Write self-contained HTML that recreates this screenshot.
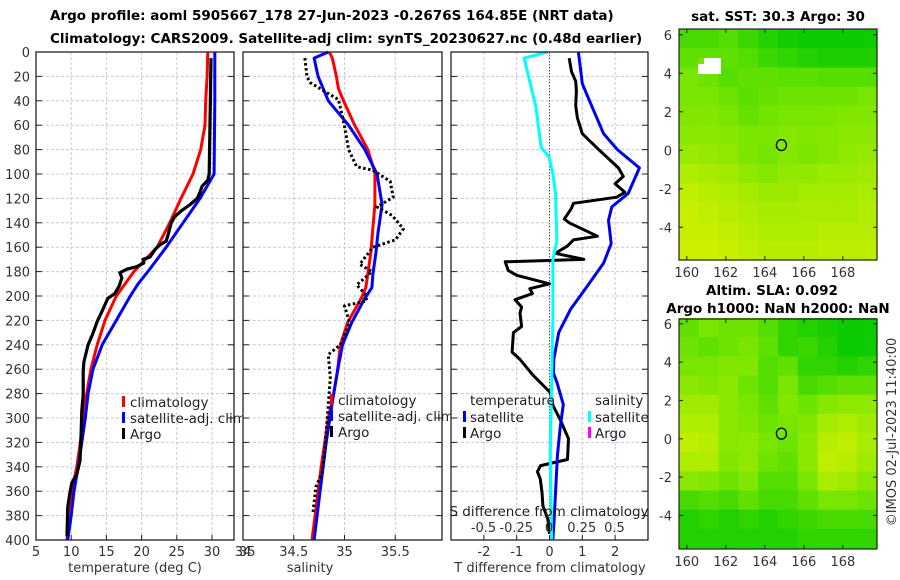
<!DOCTYPE html>
<html><head><meta charset="utf-8"><style>
body{margin:0;background:#fff;}
svg{display:block;font-family:"DejaVu Sans","Liberation Sans",sans-serif;}
.tk{font-size:13px;fill:#333;}
.ttl{font-size:13.5px;font-weight:bold;fill:#000;}
.lg{font-size:13.5px;fill:#222;}
</style></head><body>
<svg id="s" width="900" height="580" viewBox="0 0 900 580" xmlns="http://www.w3.org/2000/svg">
<text class="ttl" x="50" y="20">Argo profile: aoml 5905667_178 27-Jun-2023 -0.2676S 164.85E (NRT data)</text>
<text class="ttl" x="50" y="43">Climatology: CARS2009. Satellite-adj clim: synTS_20230627.nc (0.48d earlier)</text>
<text class="ttl" x="778" y="21" text-anchor="middle">sat. SST: 30.3 Argo: 30</text>
<text class="ttl" x="772" y="295" text-anchor="middle">Altim. SLA: 0.092</text>
<text class="ttl" x="778" y="313" text-anchor="middle">Argo h1000: NaN h2000: NaN</text>
<text class="tk" x="0" y="0" transform="translate(896,432) rotate(-90)" text-anchor="middle">©IMOS 02-Jul-2023 11:40:00</text>
<g id="g"></g>
</svg>
<script>
// ---------- data ----------
const depthTicks=[0,20,40,60,80,100,120,140,160,180,200,220,240,260,280,300,320,340,360,380,400];
const tempTicks=[5,10,15,20,25,30,35];
const salTicks=[34,34.5,35,35.5];
const tdiffTicks=[-2,-1,0,1,2];
const sdiffTickLabels=["-0.5","-0.25","0","0.25","0.5"];
const sdiffTickVals=[-0.5,-0.25,0,0.25,0.5];
const lonTicks=[160,162,164,166,168];
const latTicks=[6,4,2,0,-2,-4];

const climTDepth=[0,20,40,60,80,100,120,140,160,180,200,220,240,260,280,300,320,340,360,380,400];
const climT=[29.4,29.3,29.1,29.0,28.4,27.3,25.6,24.0,22.2,18.9,16.4,14.8,13.7,12.8,12.2,11.7,11.3,10.8,10.1,9.7,9.4];
const satTDepth=[0,40,100,120,140,160,170,180,190,200,220,240,260,280,300,320,340,360,380,400];
const satT=[30.4,30.4,30.3,28.3,25.9,23.5,22.2,20.9,19.5,18.4,16.4,14.4,13.1,12.4,12.0,11.5,11.0,10.4,10.0,9.5];
const argoTDepth=[5,100,105,110,115,120,125,130,135,140,150,155,158,162,168,170,173,176,178,181,185,192,198,202,211,221,232,240,254,262,281,294,313,335,346,353,362,373,397];
const argoT=[29.86,29.6,29.4,28.6,28.3,27.9,26.9,25.7,24.7,24.2,23.75,23.5,22.6,21.9,21.2,20.2,20.3,19.3,17.9,16.9,17.2,16.8,16.2,15.2,14.5,13.7,13.0,12.4,11.8,11.7,11.7,11.5,11.4,11.25,10.8,10.1,9.8,9.5,9.4];

const climSDepth=[0,5,20,30,40,60,80,99,125,144,164,182,193,201,222,240,262,282,300,340,400];
const climS=[34.85,34.88,34.92,34.94,34.99,35.10,35.23,35.30,35.30,35.28,35.26,35.23,35.21,35.17,35.03,34.96,34.93,34.89,34.84,34.77,34.68];
const satSDepth=[0,5,20,40,60,80,100,125,148,164,182,193,202,222,240,262,282,320,360,400];
const satS=[34.84,34.70,34.74,34.84,35.04,35.20,35.32,35.37,35.33,35.31,35.28,35.27,35.20,35.07,34.98,34.93,34.89,34.82,34.76,34.70];
const argoSDepth=[5,20,25,30,39,53,61,80,94,97,106,119,127,134,145,154,160,174,180,191,198,204,208,222,240,248,267,323,345,356,377];
const argoS=[34.61,34.63,34.66,34.76,34.94,34.98,35.00,35.04,35.12,35.28,35.45,35.48,35.32,35.47,35.58,35.50,35.28,35.15,35.27,35.12,35.20,35.22,35.00,35.05,34.96,34.84,34.86,34.81,34.78,34.72,34.69];

const sdiffDepth=[0,5,45,78,86,100,116,155,170,218,272,330,400];
const sdiffSat=[-0.01,-0.19,-0.10,-0.06,0.0,0.03,0.05,0.06,0.03,0.03,0.02,0.01,0.02];
const tdiffSatDepth=[0,26,45,67,80,95,116,127,138,157,173,192,211,230,252,263,271,289,307,331,384,400];
const tdiffSat=[0.88,1.0,1.3,1.65,2.07,2.74,2.4,1.9,1.8,1.88,1.65,1.15,0.64,0.28,0.13,0.12,0.23,0.42,0.33,0.24,0.14,0.1];
const tdiffArgoDepth=[5,16,24,32,44,54,67,80,95,102,108,115,119,124,128,133,137,140,151,154,159,163,165,170,172,179,183,190,194,198,203,209,214,225,230,246,252,265,279,290,301,317,334,339,344,350,361,372,383,395];
const tdiffArgo=[0.6,0.67,0.8,0.82,0.8,0.85,1.0,1.5,2.1,2.25,2.0,2.3,2.05,0.73,0.67,0.55,0.45,0.6,1.46,0.73,0.55,0.3,0.18,1.05,-1.35,-1.26,-1.0,0.0,-0.6,-0.52,-1.05,-0.85,-0.9,-0.85,-1.1,-1.14,-0.9,-0.5,0.02,0.11,0.32,0.58,0.55,-0.27,-0.37,-0.28,-0.23,-0.2,-0.05,0.0];

// map grids: rows lat 6..-5 (1 deg), cols lon 160..169 ; 0=dark green, 1=yellow
const sstGrid=[
[0.3,0.3,0.35,0.25,0.15,0.08,0.05,0.05,0.05,0.05],
[0.4,0.4,0.4,0.35,0.25,0.2,0.15,0.12,0.12,0.12],
[0.5,0.45,0.35,0.4,0.4,0.38,0.38,0.36,0.36,0.36],
[0.5,0.5,0.45,0.38,0.42,0.45,0.45,0.45,0.45,0.5],
[0.55,0.55,0.5,0.42,0.47,0.5,0.5,0.52,0.55,0.55],
[0.6,0.6,0.58,0.52,0.52,0.57,0.55,0.57,0.6,0.6],
[0.68,0.66,0.62,0.52,0.48,0.57,0.52,0.57,0.62,0.66],
[0.8,0.76,0.72,0.62,0.56,0.64,0.64,0.68,0.68,0.72],
[0.9,0.86,0.8,0.76,0.7,0.7,0.74,0.74,0.74,0.78],
[0.94,0.9,0.86,0.8,0.76,0.76,0.78,0.78,0.78,0.82],
[0.95,0.95,0.9,0.86,0.8,0.8,0.8,0.84,0.84,0.84],
[0.97,0.97,0.95,0.9,0.86,0.86,0.86,0.88,0.88,0.88]];
const slaGrid=[
[0.4,0.5,0.45,0.45,0.35,0.2,0.15,0.1,0.05,0.05],
[0.45,0.4,0.45,0.5,0.4,0.2,0.25,0.15,0.05,0.05],
[0.5,0.5,0.55,0.55,0.35,0.4,0.2,0.2,0.15,0.2],
[0.6,0.55,0.6,0.45,0.35,0.5,0.3,0.35,0.4,0.4],
[0.72,0.72,0.6,0.5,0.4,0.55,0.45,0.58,0.62,0.62],
[0.8,0.8,0.6,0.55,0.45,0.5,0.55,0.75,0.8,0.72],
[0.9,0.85,0.6,0.62,0.5,0.45,0.6,0.85,0.9,0.78],
[0.8,0.8,0.55,0.62,0.45,0.4,0.6,0.9,0.85,0.72],
[0.6,0.55,0.45,0.55,0.35,0.35,0.5,0.78,0.72,0.6],
[0.3,0.35,0.3,0.4,0.3,0.3,0.4,0.5,0.5,0.45],
[0.15,0.2,0.15,0.2,0.15,0.2,0.25,0.3,0.3,0.3],
[0.15,0.15,0.15,0.15,0.15,0.15,0.2,0.2,0.2,0.2]];
const argoLon=164.85, argoLat=0.27;

// ---------- drawing ----------
const NS="http://www.w3.org/2000/svg";
const G=document.getElementById('g');
function el(tag,attrs,parent){const e=document.createElementNS(NS,tag);for(const k in attrs)e.setAttribute(k,attrs[k]);(parent||G).appendChild(e);return e;}
const Y0=52,Y1=540;
const yD=d=>Y0+d*1.22;
const xT=t=>36+(t-5)*7.04;
const xS=s=>243+(s-34)*101.5;
const xTd=t=>549.5+t*32.8;
const xSd=s=>549+s*131;

function panel(name,x0,x1,vgrid){
  const r=el('rect',{x:x0,y:Y0,width:x1-x0,height:Y1-Y0,fill:'#fff'});
  
  
  for(const gx of vgrid){const l=el('line',{x1:gx,x2:gx,y1:Y0,y2:Y1,stroke:'#c4c8e6','stroke-width':1,'stroke-dasharray':'3 2'});
    
    }
  for(const d of depthTicks){const y=yD(d);
    if(d>0&&d<400){const l=el('line',{x1:x0,x2:x1,y1:y,y2:y,stroke:'#c4c8e6','stroke-width':1,'stroke-dasharray':'3 2'});
      
      }
    el('line',{x1:x0,x2:x0+6,y1:y,y2:y,stroke:'#222'});el('line',{x1:x1-6,x2:x1,y1:y,y2:y,stroke:'#222'});}
}
function frame(name,x0,x1){const f=el('rect',{x:x0,y:Y0,width:x1-x0,height:Y1-Y0,fill:'none',stroke:'#222','stroke-width':1.3});
  
  }
function line(xs,ds,fx,color,w,name,dash){
  const pts=xs.map((v,i)=>fx(v).toFixed(1)+','+yD(ds[i]).toFixed(1)).join(' ');
  const p=el('polyline',{points:pts,fill:'none',stroke:color,'stroke-width':w,'stroke-linejoin':'round'});
  if(dash){p.setAttribute('stroke-dasharray',dash);}
  
  
  return p;}
function txt(s,x,y,cls,anchor,name){const t=el('text',{x:x,y:y,class:cls,'text-anchor':anchor||'start'});t.textContent=s;
  
  return t;}
function legMark(x,y,color,name){const r=el('rect',{x:x,y:y-11,width:3,height:11,fill:color});
  
  }

// Panel 1 temperature
panel('temp-panel',36,234,tempTicks.filter(t=>t>5&&t<34).map(xT));
line(climT,climTDepth,xT,'#ff0000',3,'temp-climatology-line');
line(satT,satTDepth,xT,'#0000ff',3,'temp-satellite-line');
line(argoT,argoTDepth,xT,'#000',3.2,'temp-argo-line');
frame('temp-panel',36,234);
for(const d of depthTicks)txt(String(d),30,yD(d)+5,'tk','end','depth-tick-label');
for(const t of tempTicks){txt(String(t),xT(t),556,'tk','middle','temp-tick-label');el('line',{x1:xT(t),x2:xT(t),y1:Y1,y2:Y1-5,stroke:'#222'});}
txt('temperature (deg C)',135,572,'tk','middle','temp-axis-title');
legMark(122,407,'#ff0000','temp-legend-clim-marker');txt('climatology',130,407,'lg','start','temp-legend-clim');
legMark(122,423,'#0000ff','temp-legend-sat-marker');txt('satellite-adj. clim',130,423,'lg','start','temp-legend-sat');
legMark(122,439,'#000','temp-legend-argo-marker');txt('Argo',130,439,'lg','start','temp-legend-argo');

// Panel 2 salinity
panel('sal-panel',243,442,[34.5,35,35.5].map(xS));
line(climS,climSDepth,xS,'#ff0000',3,'sal-climatology-line');
line(satS,satSDepth,xS,'#0000ff',3,'sal-satellite-line');
line(argoS,argoSDepth,xS,'#000',3,'sal-argo-line','2.5 2.5');
frame('sal-panel',243,442);
for(const s of salTicks){txt(String(s),xS(s),556,'tk','middle','sal-tick-label');el('line',{x1:xS(s),x2:xS(s),y1:Y1,y2:Y1-5,stroke:'#222'});}
txt('salinity',310,572,'tk','middle','sal-axis-title');
legMark(330,405,'#ff0000','sal-legend-clim-marker');txt('climatology',338,405,'lg','start','sal-legend-clim');
legMark(330,421,'#0000ff','sal-legend-sat-marker');txt('satellite-adj. clim',338,421,'lg','start','sal-legend-sat');
legMark(330,437,'#000','sal-legend-argo-marker');txt('Argo',338,437,'lg','start','sal-legend-argo');

// Panel 3 differences
panel('diff-panel',451,648,[-2,-1,1,2].map(xTd));
const z=el('line',{x1:xTd(0),x2:xTd(0),y1:Y0,y2:Y1,stroke:'#555','stroke-width':1,'stroke-dasharray':'1.5 1.5'});


line(tdiffArgo,tdiffArgoDepth,xTd,'#000',3,'tdiff-argo-line');
line(tdiffSat,tdiffSatDepth,xTd,'#0000ee',3,'tdiff-satellite-line');
line(sdiffSat,sdiffDepth,xSd,'#00ffff',3,'sdiff-satellite-line');
frame('diff-panel',451,648);
for(const t of tdiffTicks){txt(String(t),xTd(t),556,'tk','middle','tdiff-tick-label');el('line',{x1:xTd(t),x2:xTd(t),y1:Y1,y2:Y1-5,stroke:'#222'});}
txt('T difference from climatology',550,572,'tk','middle','tdiff-axis-title');
txt('S difference from climatology',549,516,'lg','middle','sdiff-axis-title');
sdiffTickVals.forEach((v,i)=>txt(sdiffTickLabels[i],xSd(v),532,'tk','middle','sdiff-tick-label'));
txt('temperature',470,405,'lg','start','diff-legend-temp-header');
legMark(463,422,'#0000ff','diff-legend-tsat-marker');txt('satellite',470,422,'lg','start','diff-legend-tsat');
legMark(463,438,'#000','diff-legend-targo-marker');txt('Argo',470,438,'lg','start','diff-legend-targo');
txt('salinity',595,405,'lg','start','diff-legend-sal-header');
legMark(588,422,'#00ffff','diff-legend-ssat-marker');txt('satellite',595,422,'lg','start','diff-legend-ssat');
legMark(588,438,'#ff00ff','diff-legend-sargo-marker');txt('Argo',595,438,'lg','start','diff-legend-sargo');

// Maps
function col(v){const a=[0,200,0],b=[120,230,0],c=[210,240,0];let p,q,t;
  if(v<0.5){p=a;q=b;t=v/0.5;}else{p=b;q=c;t=(v-0.5)/0.5;}
  return 'rgb('+p.map((x,i)=>Math.round(x+(q[i]-x)*t)).join(',')+')';}
function map(name,grid,top,bottom,latTop,latBot){
  const x0=679,x1=877,lonL=159.6,lonR=169.75;
  const mx=lon=>x0+(lon-lonL)/(lonR-lonL)*(x1-x0);
  const my=lat=>top+(latTop-lat)/(latTop-latBot)*(bottom-top);
  grid.forEach((row,r)=>row.forEach((v,c)=>{
    const la=6.3-r, lo=159.6+c*1.015;
    const rc=el('rect',{x:mx(lo).toFixed(1),y:my(la).toFixed(1),width:(mx(lo+1.015)-mx(lo)+0.6).toFixed(1),height:(my(la-1)-my(la)+0.6).toFixed(1),fill:col(v)});
    
    
  }));
  const f=el('rect',{x:x0,y:top,width:x1-x0,height:bottom-top,fill:'none',stroke:'#222','stroke-width':1.2});
  
  
  for(const lo of lonTicks){txt(String(lo),mx(lo),bottom+17,'tk','middle',name+'-lon-label');
    el('line',{x1:mx(lo),x2:mx(lo),y1:bottom,y2:bottom-4,stroke:'#222'});el('line',{x1:mx(lo),x2:mx(lo),y1:top,y2:top+4,stroke:'#222'});}
  for(const la of latTicks){txt(String(la),672,my(la)+5,'tk','end',name+'-lat-label');
    el('line',{x1:x0,x2:x0+4,y1:my(la),y2:my(la),stroke:'#222'});el('line',{x1:x1-4,x2:x1,y1:my(la),y2:my(la),stroke:'#222'});}
  const c=el('ellipse',{cx:mx(argoLon),cy:my(argoLat),rx:5,ry:5.5,fill:'none',stroke:'#000','stroke-width':1.3});
  
  
  return {mx,my};
}
map('sst-map',sstGrid,29,260,6.3,-5.7);
const w=el('rect',{x:698,y:58,width:23,height:16,fill:'#fff'});


el('rect',{x:698,y:58,width:6,height:6,fill:'#7fe000'});
map('sla-map',slaGrid,319,549,6.25,-5.75);
</script>
</body></html>
